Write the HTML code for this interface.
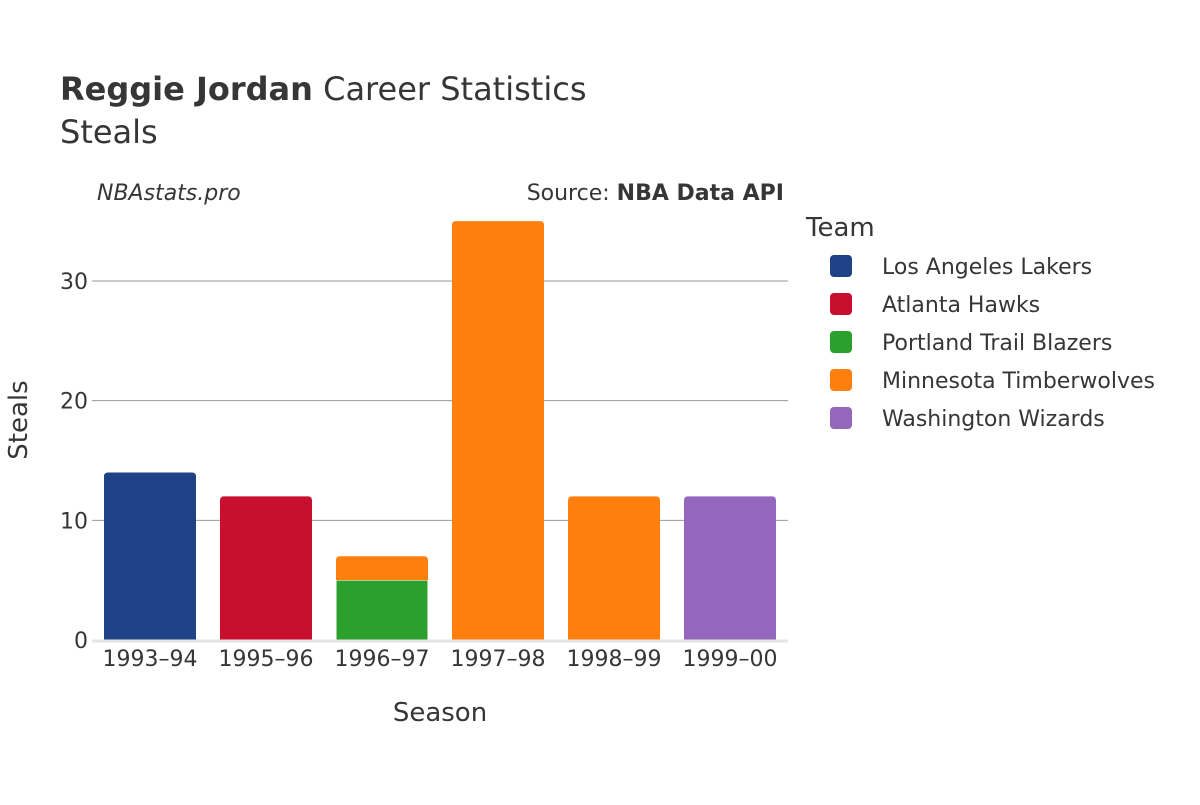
<!DOCTYPE html>
<html><head><meta charset="utf-8"><style>
body{margin:0;background:#fff;}
svg text{font-family:"DejaVu Sans","Liberation Sans",sans-serif;fill:#363636;}
</style></head><body>
<svg id="chart" width="1200" height="800" xmlns="http://www.w3.org/2000/svg">
<rect width="1200" height="800" fill="#fff"/>
<text x="60" y="100" font-size="32"><tspan font-weight="bold">Reggie Jordan</tspan> Career Statistics</text>
<text x="60" y="143" font-size="32">Steals</text>
<text x="97" y="200" font-size="22" font-style="italic">NBAstats.pro</text>
<text x="784" y="200" font-size="22" text-anchor="end">Source: <tspan font-weight="bold">NBA Data API</tspan></text>
<g id="grid"></g>
<g id="bars"></g>
<g id="xticks"></g>
<text x="440" y="721" font-size="26" text-anchor="middle">Season</text>
<text transform="translate(27,420) rotate(-90)" font-size="26" text-anchor="middle">Steals</text>
<text x="806" y="236" font-size="26">Team</text>
<g id="legend"></g>
</svg>
<script>
const seasons=["1993–94","1995–96","1996–97","1997–98","1998–99","1999–00"];
const teams=["Los Angeles Lakers","Atlanta Hawks","Portland Trail Blazers","Minnesota Timberwolves","Washington Wizards"];
const colors=["#1f4286","#c8102e","#2ca02c","#ff7f0e","#9467bd"];
const lakers=[14,0,0,0,0,0];
const hawks=[0,12,0,0,0,0];
const blazers=[0,0,5,0,0,0];
const wolves=[0,0,2,35,12,0];
const wizards=[0,0,0,0,0,12];
const yTicks=[0,10,20,30];
const series=[lakers,hawks,blazers,wolves,wizards];
const NS="http://www.w3.org/2000/svg";
const x0=92,x1=788,y0=640,pxPer=11.967;
const band=(x1-x0)/seasons.length,bw=92;
const y=v=>y0-v*pxPer;
const xc=i=>x0+band*(i+0.5);
function mk(t,a,p){const e=document.createElementNS(NS,t);for(const k in a)e.setAttribute(k,a[k]);p.appendChild(e);return e;}
const grid=document.getElementById('grid');
yTicks.forEach(t=>{
  if(t>0){const l=mk('line',{x1:x0,x2:x1,y1:y(t),y2:y(t),stroke:'#999','stroke-width':1},grid);
  
  }
  const tx=mk('text',{x:x0-4,y:y(t)+8,'font-size':22,'text-anchor':'end'},grid);tx.textContent=t;
  
  
});
const bars=document.getElementById('bars');
const base=[0,0,0,0,0,0];
series.forEach((s,si)=>{
  s.forEach((v,i)=>{
    if(!v)return;
    const top=y(base[i]+v),bot=y(base[i]);
    const isTop=series.slice(si+1).every(o=>!o[i]);
    const r=isTop?4:0,L=xc(i)-bw/2,R=xc(i)+bw/2;
    const d=`M${L},${bot}L${L},${top+r}Q${L},${top} ${L+r},${top}L${R-r},${top}Q${R},${top} ${R},${top+r}L${R},${bot}Z`;
    const p=mk('path',{d:d,fill:colors[si],stroke:'#fff','stroke-width':isTop?0:1},bars);
    
    
    base[i]+=v;
  });
});
mk('line',{x1:x0,x2:x1,y1:y0+1,y2:y0+1,stroke:'#e5e5e5','stroke-width':3},bars);
const xt=document.getElementById('xticks');
seasons.forEach((s,i)=>{const t=mk('text',{x:xc(i),y:666,'font-size':22,'text-anchor':'middle'},xt);t.textContent=s;
  
  });
const lg=document.getElementById('legend');
teams.forEach((t,i)=>{const yy=266+i*38;
  const r=mk('rect',{x:830,y:yy-11,width:22,height:22,rx:4,fill:colors[i]},lg);
  
  
  const tx=mk('text',{x:882,y:yy+8,'font-size':22},lg);tx.textContent=t;
  
  });
</script>
</body></html>
